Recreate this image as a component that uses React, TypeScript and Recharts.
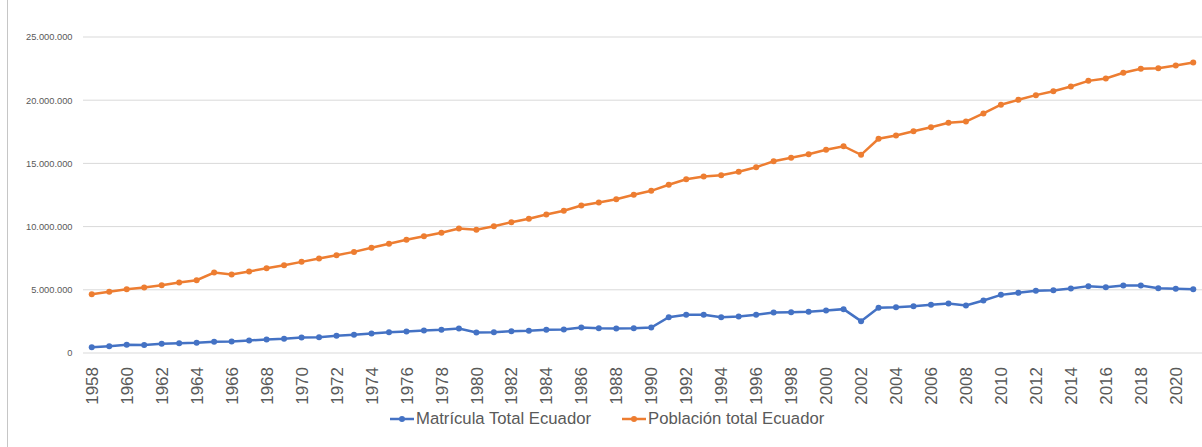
import React from 'react';
import { LineChart, Line, XAxis, YAxis, CartesianGrid, Legend } from 'recharts';

const years = [
  '1958', '1959', '1960', '1961', '1962', '1963', '1964', '1965', '1966', '1967',
  '1968', '1969', '1970', '1971', '1972', '1973', '1974', '1975', '1976', '1977',
  '1978', '1979', '1980', '1981', '1982', '1983', '1984', '1985', '1986', '1987',
  '1988', '1989', '1990', '1991', '1992', '1993', '1994', '1995', '1996', '1997',
  '1998', '1999', '2000', '2001', '2002', '2003', '2004', '2005', '2006', '2007',
  '2008', '2009', '2010', '2011', '2012', '2013', '2014', '2015', '2016', '2017',
  '2018', '2019', '2020', '2021',
];

const matricula = [
  460000, 540000, 650000, 640000, 730000, 780000, 810000, 890000, 910000, 990000,
  1070000, 1120000, 1230000, 1250000, 1360000, 1440000, 1540000, 1640000, 1700000, 1780000,
  1840000, 1940000, 1620000, 1650000, 1720000, 1760000, 1840000, 1860000, 2020000, 1960000,
  1940000, 1960000, 2020000, 2830000, 3020000, 3020000, 2830000, 2890000, 3020000, 3200000,
  3230000, 3260000, 3360000, 3470000, 2520000, 3580000, 3620000, 3700000, 3810000, 3920000,
  3760000, 4150000, 4600000, 4760000, 4920000, 4970000, 5100000, 5290000, 5210000, 5340000,
  5340000, 5130000, 5080000, 5050000,
];

const poblacion = [
  4650000, 4840000, 5050000, 5180000, 5360000, 5580000, 5760000, 6370000, 6210000, 6450000,
  6710000, 6950000, 7210000, 7480000, 7740000, 8000000, 8320000, 8640000, 8960000, 9240000,
  9510000, 9850000, 9750000, 10030000, 10350000, 10620000, 10960000, 11250000, 11670000, 11910000,
  12170000, 12520000, 12830000, 13310000, 13750000, 13960000, 14070000, 14340000, 14700000, 15170000,
  15440000, 15730000, 16080000, 16360000, 15680000, 16950000, 17210000, 17550000, 17860000, 18210000,
  18310000, 18950000, 19640000, 20030000, 20400000, 20710000, 21080000, 21530000, 21720000, 22170000,
  22480000, 22530000, 22750000, 22980000,
];

const yTicks = [0, 5000000, 10000000, 15000000, 20000000, 25000000];

const seriesNames = ['Matrícula Total Ecuador', 'Población total Ecuador'];

const data = years.map((y, i) => ({ year: y, matricula: matricula[i], poblacion: poblacion[i] }));

const FONT = '"Liberation Sans", Arial, sans-serif';
const TEXT = '#595959';
const BLUE = '#4472C4';
const ORANGE = '#ED7D31';

const fmt = (v: number) => String(v).replace(/\B(?=(\d{3})+(?!\d))/g, '.');

const XTick = (props: any) => {
  const { x, y, payload } = props;
  return (
    <g transform={`translate(${x},${y})`}>
      <text
        transform="rotate(-90)"
        x={-14}
        y={0}
        dy="0.36em"
        textAnchor="end"
        fontSize={17}
        fontFamily={FONT}
        fill={TEXT}
      >
        {payload.value}
      </text>
    </g>
  );
};

const renderLegend = (props: any) => {
  const { payload } = props;
  return (
    <div
      style={{
        display: 'flex',
        alignItems: 'center',
        height: 20,
        fontFamily: FONT,
        fontSize: 16.7,
        color: TEXT,
        whiteSpace: 'nowrap',
      }}
    >
      {(payload || []).map((e: any, i: number) => (
        <div key={i} style={{ display: 'flex', alignItems: 'center', marginRight: i === 0 ? 31 : 0 }}>
          <svg width={24} height={10} style={{ display: 'block' }}>
            <line x1={0} y1={5} x2={24} y2={5} stroke={e.color} strokeWidth={2.5} />
            <circle cx={12} cy={5} r={3} fill={e.color} />
          </svg>
          <span style={{ marginLeft: 2, lineHeight: '20px' }}>{e.value}</span>
        </div>
      ))}
    </div>
  );
};

export default function App() {
  return (
    <div style={{ position: 'absolute', left: 0, top: 0, width: 1202, height: 447, background: '#fff' }}>
      <div style={{ position: 'absolute', left: 7, top: 0, width: 1, height: 447, background: '#c6c6c6' }} />
      <LineChart width={1202} height={447} data={data} margin={{ top: 37, right: 0, left: 0, bottom: 0 }}>
        <CartesianGrid vertical={false} stroke="#d9d9d9" strokeWidth={1} />
        <XAxis
          dataKey="year"
          interval={1}
          height={74}
          padding={{ left: 8.74, right: 8.74 }}
          axisLine={false}
          tickLine={false}
          tickSize={0}
          tickMargin={0}
          tick={<XTick />}
        />
        <YAxis
          width={83}
          domain={[0, 25000000]}
          ticks={yTicks}
          tickFormatter={fmt}
          axisLine={false}
          tickLine={false}
          tickSize={0}
          tickMargin={10.5}
          tick={{ fontSize: 9.3, fill: TEXT, fontFamily: FONT }}
        />
        <Legend
          verticalAlign="bottom"
          content={renderLegend}
          wrapperStyle={{ left: 390, bottom: 18, width: 'auto' }}
        />
        <Line
          type="linear"
          dataKey="matricula"
          name={seriesNames[0]}
          stroke={BLUE}
          strokeWidth={2.5}
          dot={{ r: 3, fill: BLUE, stroke: BLUE, strokeWidth: 0 }}
          activeDot={false}
          isAnimationActive={false}
        />
        <Line
          type="linear"
          dataKey="poblacion"
          name={seriesNames[1]}
          stroke={ORANGE}
          strokeWidth={2.5}
          dot={{ r: 3, fill: ORANGE, stroke: ORANGE, strokeWidth: 0 }}
          activeDot={false}
          isAnimationActive={false}
        />
      </LineChart>
    </div>
  );
}
